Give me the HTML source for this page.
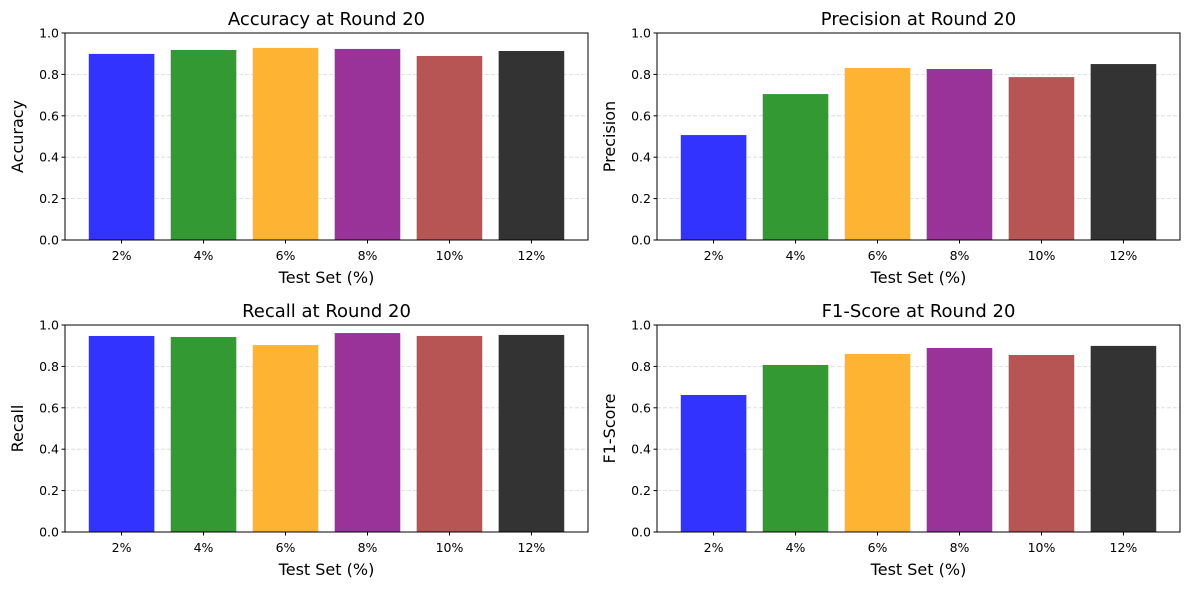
<!DOCTYPE html>
<html><head><meta charset="utf-8"><style>
html,body{margin:0;padding:0;background:#fff;}
svg{display:block;font-family:"DejaVu Sans","Liberation Sans",sans-serif;}
</style></head><body>
<svg id="fig" width="1189" height="590" viewBox="0 0 1189 590" xmlns="http://www.w3.org/2000/svg"></svg>
<script>
const categories = ["2%","4%","6%","8%","10%","12%"];
const accuracyValues = [0.899,0.918,0.928,0.923,0.889,0.913];
const precisionValues = [0.507,0.705,0.831,0.826,0.787,0.850];
const recallValues = [0.947,0.942,0.903,0.961,0.947,0.952];
const f1Values = [0.662,0.807,0.860,0.889,0.855,0.899];
const yTicks = [0,0.2,0.4,0.6,0.8,1.0];
const yTickLabels = ["0.0","0.2","0.4","0.6","0.8","1.0"];
const colors = ["#3333ff","#339933","#ffb333","#993399","#b75555","#333333"];

const NS="http://www.w3.org/2000/svg";
const svg=document.getElementById('fig');
function mk(tag,attrs,parent){const e=document.createElementNS(NS,tag);for(const k in attrs)e.setAttribute(k,attrs[k]);(parent||svg).appendChild(e);return e;}

const panels=[
 {key:"accuracy",title:"Accuracy at Round 20",ylabel:"Accuracy",vals:accuracyValues,x0:65,y0:33},
 {key:"precision",title:"Precision at Round 20",ylabel:"Precision",vals:precisionValues,x0:657,y0:33},
 {key:"recall",title:"Recall at Round 20",ylabel:"Recall",vals:recallValues,x0:65,y0:325},
 {key:"f1",title:"F1-Score at Round 20",ylabel:"F1-Score",vals:f1Values,x0:657,y0:325}
];
const W=523,H=207;
panels.forEach(p=>{
  const g=mk('g',{});
  
  
  const n=categories.length;
  const xmin=-0.4-0.05*(n-1+0.8), xmax=n-1+0.4+0.05*(n-1+0.8);
  const xs=v=>p.x0+(v-xmin)/(xmax-xmin)*W;
  const ys=v=>p.y0+H-v*H;
  // grid
  yTicks.forEach((t,i)=>{
    if(t>0&&t<1){const l=mk('line',{x1:p.x0,x2:p.x0+W,y1:ys(t),y2:ys(t),stroke:'#b0b0b0','stroke-opacity':0.5,'stroke-dasharray':'4,2','stroke-width':0.8},g);
      }
  });
  // bars
  p.vals.forEach((v,i)=>{
    const r=mk('rect',{x:xs(i-0.4),y:ys(v),width:xs(i+0.4)-xs(i-0.4),height:ys(0)-ys(v),fill:colors[i]},g);
    
    
  });
  // frame
  const f=mk('rect',{x:p.x0,y:p.y0,width:W,height:H,fill:'none',stroke:'#000','stroke-width':1},g);
  
  // y ticks
  yTicks.forEach((t,i)=>{
    mk('line',{x1:p.x0-3.5,x2:p.x0,y1:ys(t),y2:ys(t),stroke:'#000'},g);
    const tx=mk('text',{x:p.x0-6,y:ys(t)+4.5,'text-anchor':'end','font-size':12.5},g);
    tx.textContent=yTickLabels[i];
    
  });
  // x ticks
  categories.forEach((c,i)=>{
    mk('line',{x1:xs(i),x2:xs(i),y1:p.y0+H,y2:p.y0+H+3.5,stroke:'#000'},g);
    const tx=mk('text',{x:xs(i),y:p.y0+H+20,'text-anchor':'middle','font-size':12.5},g);
    tx.textContent=c;
    
  });
  const t=mk('text',{x:p.x0+W/2,y:p.y0-8,'text-anchor':'middle','font-size':18},g);
  t.textContent=p.title;
  const xl=mk('text',{x:p.x0+W/2,y:p.y0+H+43,'text-anchor':'middle','font-size':16},g);
  xl.textContent="Test Set (%)";
  const yx=p.x0-42, yy=p.y0+H/2;
  const yl=mk('text',{x:yx,y:yy,'text-anchor':'middle','font-size':16,transform:`rotate(-90 ${yx} ${yy})`},g);
  yl.textContent=p.ylabel;
});
</script>
</body></html>
